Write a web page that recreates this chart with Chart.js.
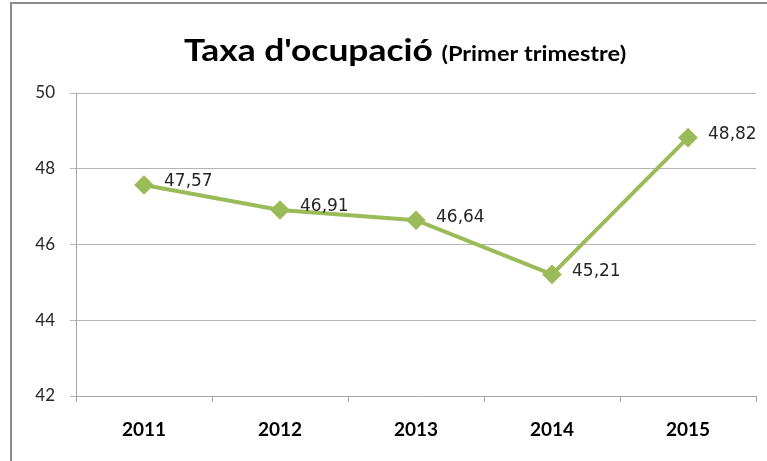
<!DOCTYPE html>
<html>
<head>
<meta charset="utf-8">
<script src="https://cdn.jsdelivr.net/npm/chart.js@4.4.1/dist/chart.umd.min.js"></script>
<style>
  html, body { margin: 0; padding: 0; background: #fff; overflow: hidden; }
  #wrap { position: relative; width: 767px; height: 461px; }
  #frame { position: absolute; left: 10px; top: 2px; width: 820px; height: 520px; border: 2px solid #8c8c8c; box-sizing: border-box; pointer-events: none; }
</style>
</head>
<body>
<div id="wrap">
  <canvas id="myChart" width="767" height="461"></canvas>
  <div id="frame"></div>
</div>
<script>
// data
const years = ['2011', '2012', '2013', '2014', '2015'];
const ocupacio = [47.57, 46.91, 46.64, 45.21, 48.82];
const yTicks = [42, 44, 46, 48, 50];

// title in two sizes + value labels (no datalabels plugin offline)
const extras = {
  id: 'extras',
  afterDraw(chart) {
    const c = chart.ctx;
    c.save();
    c.fillStyle = '#000';
    c.textBaseline = 'alphabetic';
    const big = 'Taxa d\'ocupació ';
    const small = '(Primer trimestre)';
    // reference text is a bit stretched sideways
    const sx = 1.18;
    c.font = 'bold 30px Lato';
    const w1 = c.measureText(big).width * sx;
    c.font = 'bold 20px Lato';
    const w2 = c.measureText(small).width * sx;
    const x = 405 - (w1 + w2) / 2;
    c.save();
    c.translate(x, 61);
    c.scale(sx, 1);
    c.font = 'bold 30px Lato';
    c.fillText(big, 0, 0);
    c.font = 'bold 20px Lato';
    c.fillText(small, w1 / sx, 0);
    c.restore();

    const meta = chart.getDatasetMeta(0);
    c.font = '17px "DejaVu Sans"';
    c.fillStyle = '#262626';
    c.textBaseline = 'middle';
    c.textAlign = 'left';
    meta.data.forEach((pt, i) => {
      const txt = ocupacio[i].toFixed(2).replace('.', ',');
      c.fillText(txt, pt.x + 20, pt.y - 3);
    });
    c.restore();
  }
};

new Chart(document.getElementById('myChart'), {
  type: 'line',
  data: {
    labels: years,
    datasets: [{
      data: ocupacio,
      borderColor: '#9bbb59',
      backgroundColor: '#9bbb59',
      borderWidth: 4,
      pointStyle: 'rectRot',
      pointRadius: 7,
      pointHoverRadius: 7,
      tension: 0,
      fill: false
    }]
  },
  options: {
    responsive: false,
    animation: false,
    layout: { padding: { top: 93, right: 10, bottom: 15, left: 0 } },
    plugins: {
      legend: { display: false },
      title: { display: false },
      tooltip: { enabled: false }
    },
    scales: {
      x: {
        offset: true,
        afterFit: s => { s.height = 50; },
        grid: { offset: true, drawOnChartArea: false, tickLength: 6, color: '#a6a6a6' },
        border: { color: '#a6a6a6', width: 1 },
        ticks: { color: '#000', padding: 16, font: { family: 'Lato', size: 19, weight: 'bold' } }
      },
      y: {
        min: 42,
        max: 50,
        afterFit: s => { s.width = 76; },
        afterBuildTicks: s => { s.ticks = yTicks.map(v => ({ value: v })); },
        grid: { color: '#b5b5b5', tickLength: 6, lineWidth: 1 },
        border: { color: '#a6a6a6', width: 1 },
        ticks: { color: '#262626', padding: 15, font: { family: 'Lato', size: 17 } }
      }
    }
  },
  plugins: [extras]
});
</script>
</body>
</html>
